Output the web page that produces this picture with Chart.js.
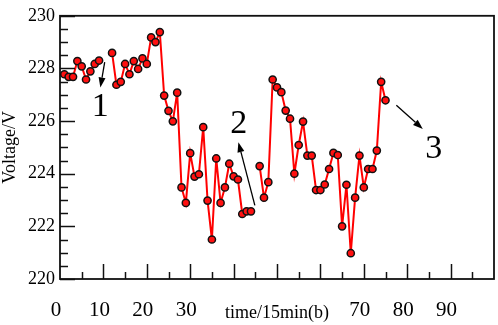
<!DOCTYPE html>
<html>
<head>
<meta charset="utf-8">
<script src="https://cdn.jsdelivr.net/npm/chart.js@4/dist/chart.umd.min.js"></script>
<style>
html,body{margin:0;padding:0;background:#fff;}
#c{display:block;}
</style>
</head>
<body>
<canvas id="c" width="498" height="325"></canvas>
<script>
// ---- data ----
const times = [1,2,3,4,5,6,7,8,9,10,11,12,13,14,15,16,17,18,19,20,21,22,23,24,25,26,27,28,29,30,31,32,33,34,35,36,37,38,39,40,41,42,43,44,45,46,47,48,49,50,51,52,53,54,55,56,57,58,59,60,61,62,63,64,65,66,67,68,69,70,71,72,73,74,75];
const voltage = [227.78,227.68,227.68,228.28,228.08,227.58,227.89,228.17,228.30,null,
                 null,228.59,227.38,227.49,228.17,227.78,228.28,227.98,228.38,228.17,
                 229.18,229.00,229.38,226.97,226.39,225.99,227.08,223.48,222.89,224.78,
                 223.89,223.98,225.77,222.98,221.50,224.58,222.89,223.48,224.38,223.90,
                 223.78,222.47,222.57,222.57,null,224.29,223.09,223.68,227.58,227.28,
                 227.10,226.40,226.09,224.00,225.09,225.98,224.69,224.69,223.38,223.38,
                 223.59,224.18,224.79,224.71,222.00,223.58,220.98,223.09,224.69,223.48,
                 224.18,224.18,224.88,227.49,226.79];
const xTickValues = [0,10,20,30,70,80,90];
const yTickValues = [220,222,224,226,228,230];
const labelTexts = ["1","2","3"];
const xTitle = "time/15min(b)";
const yTitle = "Voltage/V";

// annotation anchor points in data units (label, arrow start, arrow end)
const labelAt = [[9.3,226.55],[41.2,225.9],[86.1,224.95]];
const arrowFrom = [[10.3,228.24],[44.9,222.8],[77.5,226.6]];
const arrowTo = [[9.3,227.28],[41.1,225.2],[83.6,225.7]];

const SERIF = "'Liberation Serif','Times New Roman',serif";

const points = times.map((t,i)=>({x:t,y:voltage[i]}));

const decor = {
  id:'decor',
  afterDraw(chart){
    const ctx = chart.ctx, ca = chart.chartArea;
    const xs = chart.scales.x, ys = chart.scales.y;
    ctx.save();
    ctx.strokeStyle = '#111';
    ctx.lineWidth = 1.5;
    // ticks on y (inside)
    for (let v=220; v<=230.001; v+=0.5){
      const y = Math.round(ys.getPixelForValue(v))+0.5;
      const major = Math.abs(v/2-Math.round(v/2))<1e-6;
      ctx.beginPath();
      ctx.moveTo(ca.left, y);
      ctx.lineTo(ca.left + (major?15:8), y);
      ctx.stroke();
    }
    // ticks on x (inside)
    for (let v=5; v<100; v+=5){
      const x = Math.round(xs.getPixelForValue(v))+0.5;
      const major = v%10===0;
      ctx.beginPath();
      ctx.moveTo(x, ca.bottom);
      ctx.lineTo(x, ca.bottom - (major?15:7));
      ctx.stroke();
    }
    // frame
    ctx.lineWidth = 1.8;
    ctx.strokeRect(ca.left, ca.top, ca.right-ca.left, ca.bottom-ca.top);

    // axis titles
    ctx.fillStyle = '#000';
    ctx.font = '18px ' + SERIF;
    ctx.textAlign = 'center';
    ctx.textBaseline = 'alphabetic';
    ctx.fillText(xTitle, (ca.left+ca.right)/2, 318);
    ctx.save();
    ctx.translate(15, (ca.top+ca.bottom)/2);
    ctx.rotate(-Math.PI/2);
    ctx.fillText(yTitle, 0, 0);
    ctx.restore();

    // annotation numbers
    ctx.font = '34px ' + SERIF;
    ctx.textBaseline = 'middle';
    labelTexts.forEach((t,i)=>{
      ctx.fillText(t, xs.getPixelForValue(labelAt[i][0]), ys.getPixelForValue(labelAt[i][1]));
    });
    // arrows
    ctx.lineWidth = 1.3;
    ctx.strokeStyle = '#000';
    arrowFrom.forEach((a,i)=>{
      const x1 = xs.getPixelForValue(a[0]), y1 = ys.getPixelForValue(a[1]);
      const x2 = xs.getPixelForValue(arrowTo[i][0]), y2 = ys.getPixelForValue(arrowTo[i][1]);
      const ang = Math.atan2(y2-y1, x2-x1);
      const L = 10, W = 3.5;
      const bx = x2 - L*Math.cos(ang), by = y2 - L*Math.sin(ang);
      ctx.beginPath();
      ctx.moveTo(x1,y1); ctx.lineTo(bx,by); ctx.stroke();
      ctx.beginPath();
      ctx.moveTo(x2,y2);
      ctx.lineTo(bx + W*Math.sin(ang), by - W*Math.cos(ang));
      ctx.lineTo(bx - W*Math.sin(ang), by + W*Math.cos(ang));
      ctx.closePath();
      ctx.fillStyle = '#000';
      ctx.fill();
    });
    ctx.restore();
  }
};

new Chart(document.getElementById('c'), {
  type:'line',
  data:{
    datasets:[{
      data: points,
      borderColor:'#ff0000',
      borderWidth:2,
      backgroundColor:'#ff1010',
      pointBackgroundColor:'#ff1010',
      pointBorderColor:'#111',
      pointBorderWidth:1.5,
      pointRadius:3.6,
      spanGaps:false,
      tension:0
    }]
  },
  options:{
    responsive:false,
    animation:false,
    devicePixelRatio:1,
    layout:{padding:{top:7,right:4,left:0,bottom:0}, autoPadding:false},
    plugins:{legend:{display:false}, tooltip:{enabled:false}},
    scales:{
      x:{
        type:'linear', min:0, max:100,
        grid:{display:false, drawTicks:false},
        border:{display:false},
        afterBuildTicks(s){ s.ticks = xTickValues.map(v=>({value:v})); },
        afterFit(s){ s.height = 46; },
        ticks:{
          autoSkip:false, maxRotation:0,
          color:'#000', padding:19, labelOffset:-4,
          font:{family:SERIF, size:21}
        }
      },
      y:{
        type:'linear', min:220, max:230,
        grid:{display:false, drawTicks:false},
        border:{display:false},
        afterBuildTicks(s){ s.ticks = yTickValues.map(v=>({value:v})); },
        afterFit(s){ s.width = 60; },
        ticks:{
          color:'#000', padding:5,
          font:{family:SERIF, size:18}
        }
      }
    }
  },
  plugins:[decor]
});
</script>
</body>
</html>
